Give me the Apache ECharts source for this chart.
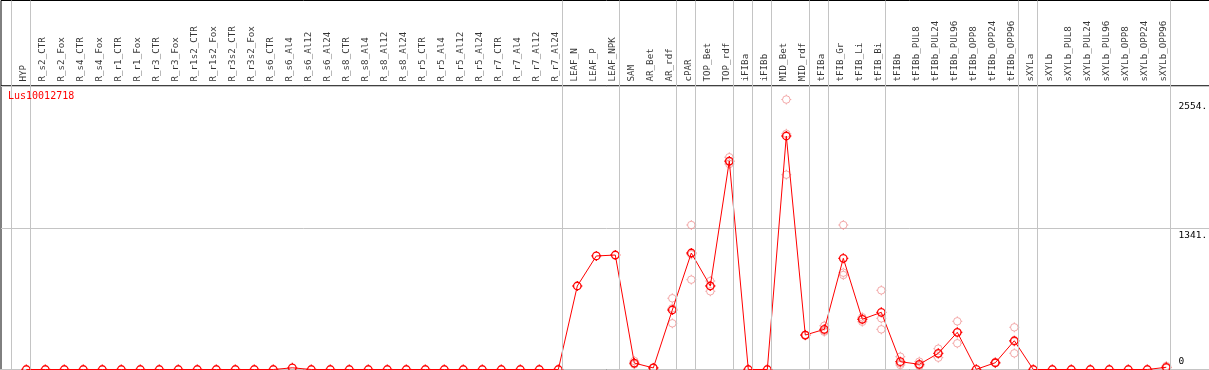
<!DOCTYPE html>
<html>
<head>
<meta charset="utf-8">
<script src="https://cdn.jsdelivr.net/npm/echarts@6/dist/echarts.min.js"></script>
<style>
  html, body { margin: 0; padding: 0; background: #fff; overflow: hidden; }
  #chart { width: 1212px; height: 370px; }
</style>
</head>
<body>
<div id="chart"></div>
<script>
// 样本名称
const categories = [
  'HYP', 'R_s2_CTR', 'R_s2_Fox', 'R_s4_CTR', 'R_s4_Fox', 'R_r1_CTR', 'R_r1_Fox', 'R_r3_CTR', 'R_r3_Fox',
  'R_r1s2_CTR', 'R_r1s2_Fox', 'R_r3s2_CTR', 'R_r3s2_Fox',
  'R_s6_CTR', 'R_s6_Al4', 'R_s6_Al12', 'R_s6_Al24', 'R_s8_CTR', 'R_s8_Al4', 'R_s8_Al12', 'R_s8_Al24',
  'R_r5_CTR', 'R_r5_Al4', 'R_r5_Al12', 'R_r5_Al24', 'R_r7_CTR', 'R_r7_Al4', 'R_r7_Al12', 'R_r7_Al24',
  'LEAF_N', 'LEAF_P', 'LEAF_NPK', 'SAM', 'AR_Bet', 'AR_rdf', 'cPAR', 'TOP_Bet', 'TOP_rdf',
  'iFIBa', 'iFIBb', 'MID_Bet', 'MID_rdf', 'tFIBa', 'tFIB_Gr', 'tFIB_Li', 'tFIB_Bi',
  'tFIBb', 'tFIBb_PUL8', 'tFIBb_PUL24', 'tFIBb_PUL96', 'tFIBb_OPP8', 'tFIBb_OPP24', 'tFIBb_OPP96',
  'sXYLa', 'sXYLb', 'sXYLb_PUL8', 'sXYLb_PUL24', 'sXYLb_PUL96', 'sXYLb_OPP8', 'sXYLb_OPP24', 'sXYLb_OPP96'
]
// 平均表达量
const meanValues = [
  0, 0, 0, 0, 0, 0, 0, 0, 0, 0, 0, 0, 0, 0, 16, 0, 0, 0, 0, 0, 0, 0, 0, 0, 0, 0, 0, 0, 0,
  790, 1074, 1083, 61, 15, 563, 1102, 790, 1972, 0, 0, 2209, 326, 380, 1052, 475, 541,
  74, 49, 153, 352, 2, 64, 272, 0, 0, 0, 0, 0, 0, 0, 21
]
// 重复样本
const rep1 = [
  null, null, null, null, null, null, null, null, null, null, null, null, null, null, null, null, null, null, null, null, null, null, null, null, null, null, null, null, null,
  null, null, null, 80, 15, 674, 1367, 837, 2008, null, null, 2554, 322, 414, 1367, 452, 749,
  121, 74, 197, 456, null, 60, 399, null, null, null, null, null, null, null, 33
]
const rep2 = [
  null, null, null, null, null, null, null, null, null, null, null, null, null, null, null, null, null, null, null, null, null, null, null, null, null, null, null, null, null,
  null, null, null, 49, 15, 437, 850, 740, 1944, null, null, 1843, 330, 358, 894, 494, 380,
  43, 33, 112, 248, null, 70, 153, null, null, null, null, null, null, null, 15
]
const rep3 = [
  null, null, null, null, null, null, null, null, null, null, null, null, null, null, null, null, null, null, null, null, null, null, null, null, null, null, null, null, null,
  null, null, null, 54, 15, 578, 1089, 793, 1964, null, null, 2230, 326, 368, 916, 479, 484,
  58, 40, 150, 352, null, 62, 264, null, null, null, null, null, null, null, 15
]
// 分组分隔线（在该样本之后）
const groupEnds = ['HYP', 'R_r7_Al24', 'LEAF_NPK', 'AR_rdf', 'cPAR', 'TOP_rdf', 'iFIBa', 'iFIBb',
  'MID_rdf', 'tFIBa', 'tFIB_Bi', 'tFIBb_OPP96', 'sXYLa', 'sXYLb_OPP96']
// y轴刻度
const yTickValues = [0, 1341, 2554]
const yTickLabels = ['0', '1341.', '2554.']
const yMax = 2682
const geneName = 'Lus10012718'

const GRID_LEFT = 1
const GRID_WIDTH = 1211 // 容器比窗口宽，右边框落在画面外
const FIRST_X = 26.3
const STEP = 19
const xMin = -(FIRST_X - GRID_LEFT) / STEP
const xMax = xMin + GRID_WIDTH / STEP
const mono = 'DejaVu Sans Mono'
// 圆圈 + 四个小刻度
const marker = 'path://M10,2.5A7.5,7.5,0,0,1,10,17.5A7.5,7.5,0,0,1,10,2.5ZM10,0L10,2.5M10,17.5L10,20M0,10L2.5,10M17.5,10L20,10'

const sepLines = [{ xAxis: -1 + 0.2 }].concat(groupEnds.map(n => ({ xAxis: categories.indexOf(n) + 0.2 })))
const sepMark = {
  silent: true,
  symbol: 'none',
  label: { show: false },
  lineStyle: { color: '#c4c4c4', width: 1, type: 'solid' },
  emphasis: { disabled: true },
  animation: false,
  data: sepLines
}

const repSeries = [rep1, rep2, rep3].map((rep, k) => ({
  name: 'rep' + (k + 1),
  type: 'scatter',
  xAxisIndex: 1,
  yAxisIndex: 1,
  symbol: marker,
  symbolSize: 10,
  itemStyle: { color: 'rgba(0,0,0,0)', borderColor: '#f09595', borderWidth: 1 },
  z: 2,
  data: rep.map((v, i) => v === null ? null : [i, v]).filter(d => d)
}))

const chart = echarts.init(document.getElementById('chart'))
const option = {
  animation: false,
  backgroundColor: '#fff',
  title: {
    text: geneName,
    left: 8,
    top: 91,
    padding: 0,
    textStyle: { color: '#ff0000', fontSize: 10, fontWeight: 'normal', fontFamily: mono }
  },
  grid: [
    { left: GRID_LEFT, width: GRID_WIDTH, top: 0.5, height: 85.5, show: true, borderColor: '#000', borderWidth: 1, backgroundColor: '#fff' },
    { left: GRID_LEFT, width: GRID_WIDTH, top: 86, bottom: 0.5, show: true, borderColor: '#000', borderWidth: 1, backgroundColor: '#fff' }
  ],
  xAxis: [
    { gridIndex: 0, type: 'value', min: xMin, max: xMax, show: false },
    { gridIndex: 1, type: 'value', min: xMin, max: xMax, show: false }
  ],
  yAxis: [
    { gridIndex: 0, type: 'value', min: 0, max: 1, show: false },
    {
      gridIndex: 1,
      type: 'value',
      position: 'right',
      min: 0,
      max: yMax,
      interval: yMax / 2,
      axisLine: { show: false },
      axisTick: { show: false },
      splitLine: { show: true, lineStyle: { color: '#c4c4c4', width: 1 } },
      axisLabel: {
        inside: true,
        margin: 33.5,
        align: 'left',
        customValues: yTickValues,
        fontFamily: mono,
        fontSize: 9.5,
        color: '#000',
        formatter: function (v) {
          const t = yTickLabels[yTickValues.indexOf(v)]
          return v === 0 ? '{lo|' + t + '}' : '{hi|' + t + '}'
        },
        rich: {
          hi: { fontFamily: mono, fontSize: 9.5, color: '#000', padding: [15, 0, 0, 0] },
          lo: { fontFamily: mono, fontSize: 9.5, color: '#000', padding: [0, 0, 15, 0] }
        }
      }
    }
  ],
  series: [
    {
      name: 'labels',
      type: 'scatter',
      xAxisIndex: 0,
      yAxisIndex: 0,
      symbolSize: 1,
      itemStyle: { color: 'rgba(0,0,0,0)' },
      silent: true,
      label: {
        show: true,
        position: [-2, -4],
        rotate: 90,
        align: 'left',
        verticalAlign: 'middle',
        fontFamily: mono,
        fontSize: 9.2,
        color: '#000',
        formatter: p => categories[p.data[0]]
      },
      markLine: sepMark,
      data: categories.map((c, i) => [i, 0])
    },
    {
      name: 'sep',
      type: 'line',
      xAxisIndex: 1,
      yAxisIndex: 1,
      data: [],
      markLine: sepMark
    },
    ...repSeries,
    {
      name: 'mean',
      type: 'line',
      xAxisIndex: 1,
      yAxisIndex: 1,
      symbol: marker,
      symbolSize: 10,
      showAllSymbol: true,
      clip: false,
      lineStyle: { color: '#ff0000', width: 1 },
      itemStyle: { color: 'rgba(0,0,0,0)', borderColor: '#ff0000', borderWidth: 1.3 },
      z: 3,
      data: meanValues.map((v, i) => [i, v])
    }
  ]
}
chart.setOption(option)
</script>
</body>
</html>
